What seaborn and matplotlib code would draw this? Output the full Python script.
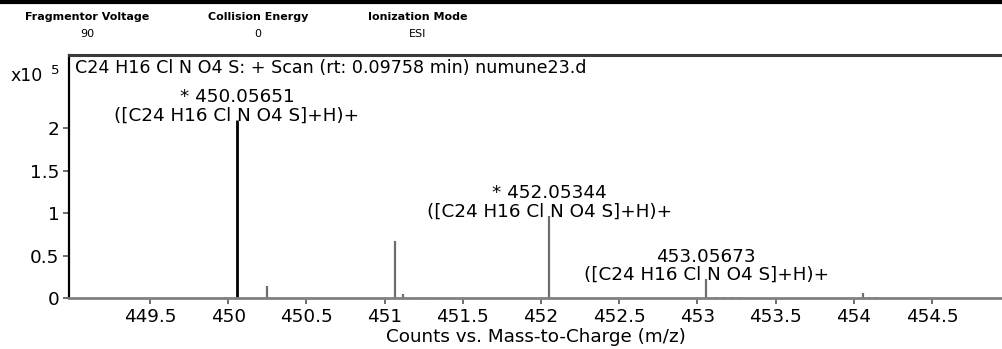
import numpy as np
import pandas as pd
import matplotlib
matplotlib.use("Agg")
import matplotlib.pyplot as plt
import seaborn as sns
from matplotlib.lines import Line2D

# peaks (m/z, intensity in x10^5 counts)
peak_mz = [449.93, 449.98, 450.05651, 450.245, 451.064, 451.12, 451.25,
           452.05344, 453.05673, 453.12, 453.17, 453.22, 453.28,
           454.06, 454.10, 454.14]
peak_int = [0.005, 0.008, 2.10, 0.14, 0.67, 0.05, 0.015,
            0.97, 0.22, 0.015, 0.01, 0.008, 0.006,
            0.06, 0.015, 0.008]

label_mz = [450.05651, 452.05344, 453.05673]
label_txt = ["* 450.05651\n([C24 H16 Cl N O4 S]+H)+",
             "* 452.05344\n([C24 H16 Cl N O4 S]+H)+",
             "453.05673\n([C24 H16 Cl N O4 S]+H)+"]

x_ticks = [449.5, 450, 450.5, 451, 451.5, 452, 452.5, 453, 453.5, 454, 454.5]
y_ticks = [0, 0.5, 1, 1.5, 2]

header_names = ["Fragmentor Voltage", "Collision Energy", "Ionization Mode"]
header_vals = ["90", "0", "ESI"]

sns.set_style("ticks")
plt.rcParams['font.family'] = ['DejaVu Sans']
plt.rcParams['text.color'] = 'black'

df = pd.DataFrame({'mz': peak_mz, 'counts': peak_int})
main = df['counts'] == df['counts'].max()

W, H = 1003, 349
fs = 13.2
fig = plt.figure(figsize=(W / 100, H / 100), dpi=100)
ax = fig.add_axes([69 / W, 1 - 298 / H, (W - 69) / W, (298 - 55) / H])

ax.vlines(df.loc[~main, 'mz'], 0, df.loc[~main, 'counts'], color='#6e6e6e', lw=1.6)
ax.vlines(df.loc[main, 'mz'], 0, df.loc[main, 'counts'], color='black', lw=2)

for mz, txt in zip(label_mz, label_txt):
    h = df.loc[np.isclose(df['mz'], mz), 'counts'].iloc[0]
    ax.annotate(txt, (mz, h), xytext=(0, -3.5), textcoords='offset points',
                ha='center', va='bottom', fontsize=fs, linespacing=1.0)

ax.set_xlim(448.982, 454.954)
ax.set_ylim(0, 2.86)
ax.set_xticks(x_ticks)
ax.set_xticklabels([f"{t:g}" for t in x_ticks])
ax.set_yticks(y_ticks)
ax.set_yticklabels([f"{t:g}" for t in y_ticks])
ax.tick_params(axis='both', labelsize=fs, length=4, width=1.2, colors='#555555',
               labelcolor='black', pad=3)
ax.set_xlabel("Counts vs. Mass-to-Charge (m/z)", fontsize=fs, labelpad=2,
              color='black')

ax.spines['right'].set_visible(False)
ax.spines['left'].set_color('black')
ax.spines['left'].set_linewidth(1.6)
ax.spines['bottom'].set_color('#808080')
ax.spines['bottom'].set_linewidth(2)
ax.spines['top'].set_color('#3a3a3a')
ax.spines['top'].set_linewidth(2.2)

ax.text(0.006, 0.985, "C24 H16 Cl N O4 S: + Scan (rt: 0.09758 min) numune23.d",
        transform=ax.transAxes, ha='left', va='top', fontsize=12.6)

# x10^5 multiplier
fig.text(11 / W, 1 - 81 / H, "x10", fontsize=12.5, ha='left', va='baseline')
fig.text(51 / W, 1 - 74 / H, "5", fontsize=9.5, ha='left', va='baseline')

# header block
fig.add_artist(Line2D([0, 1], [1 - 1.5 / H, 1 - 1.5 / H], color='black', lw=3))
for xc, name, val in zip([87, 258, 418], header_names, header_vals):
    fig.text(xc / W, 1 - 17 / H, name, fontsize=8, fontweight='bold',
             ha='center', va='center')
    fig.text(xc / W, 1 - 34 / H, val, fontsize=8,
             ha='center', va='center')

fig.savefig("out.png", dpi=100)
